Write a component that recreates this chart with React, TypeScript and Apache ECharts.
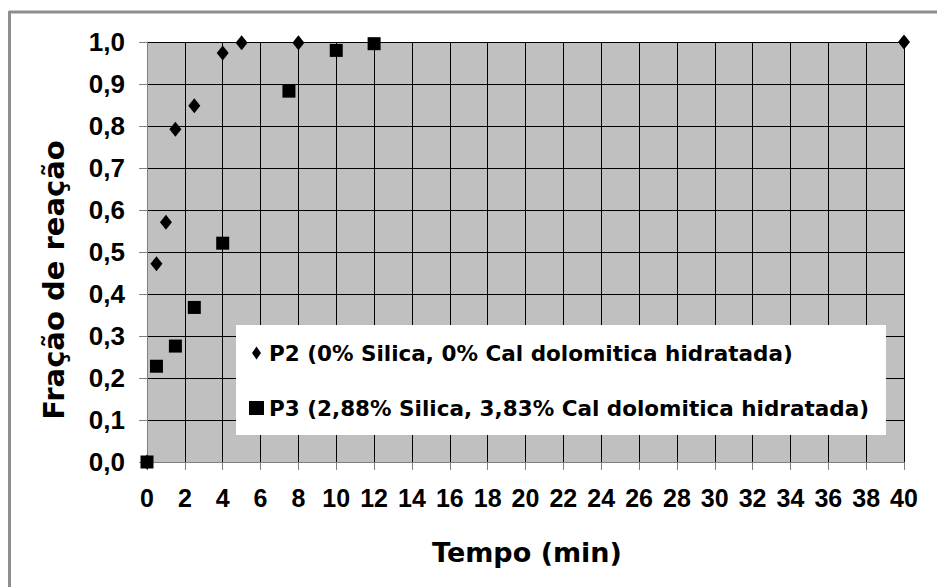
import React, { useEffect, useRef } from "react";
import * as echarts from "echarts";

const p2Label = "P2 (0% Silica, 0% Cal dolomitica hidratada)";
const p3Label = "P3 (2,88% Silica, 3,83% Cal dolomitica hidratada)";

const p2Time = [0, 0.5, 1, 1.5, 2.5, 4, 5, 8, 40];
const p2Fraction = [0, 0.472, 0.571, 0.792, 0.848, 0.974, 0.998, 0.998, 1.0];

const p3Time = [0, 0.5, 1.5, 2.5, 4, 7.5, 10, 12];
const p3Fraction = [0, 0.228, 0.276, 0.368, 0.521, 0.883, 0.98, 0.996];

const xTitle = "Tempo (min)";
const yTitle = "Fração de reação";

const FONT = "Arial, 'Liberation Sans', sans-serif";
const WIDE = "'DejaVu Sans', sans-serif";

export default function App() {
  const ref = useRef<HTMLDivElement>(null);

  useEffect(() => {
    if (!ref.current) return;
    const chart = echarts.init(ref.current, undefined, { renderer: "svg" });
    const p2 = p2Time.map((t, i) => [t, p2Fraction[i]]);
    const p3 = p3Time.map((t, i) => [t, p3Fraction[i]]);
    chart.setOption({
      animation: false,
      backgroundColor: "#ffffff",
      textStyle: { fontFamily: FONT },
      grid: {
        left: 147,
        top: 42,
        right: 33,
        bottom: 125,
        show: true,
        backgroundColor: "#C0C0C0",
        borderWidth: 0,
      },
      xAxis: {
        type: "value",
        min: 0,
        max: 40,
        interval: 2,
        axisLine: { show: true, onZero: false, lineStyle: { color: "#808080", width: 1 } },
        axisTick: { show: true, inside: false, length: 8, lineStyle: { color: "#808080" } },
        splitLine: { show: true, lineStyle: { color: "#000000", width: 1 } },
        axisLabel: {
          margin: 23,
          fontSize: 25,
          fontWeight: "bold",
          color: "#000000",
          fontFamily: FONT,
        },
      },
      yAxis: {
        type: "value",
        min: 0,
        max: 1,
        interval: 0.1,
        axisLine: { show: true, onZero: false, lineStyle: { color: "#808080", width: 1 } },
        axisTick: { show: true, inside: false, length: 8, lineStyle: { color: "#808080" } },
        splitLine: { show: true, lineStyle: { color: "#000000", width: 1 } },
        axisLabel: {
          margin: 22,
          fontSize: 26,
          fontWeight: "bold",
          color: "#000000",
          fontFamily: FONT,
          formatter: (v: number) => v.toFixed(1).replace(".", ","),
        },
      },
      legend: {
        orient: "vertical",
        left: 236,
        top: 325,
        backgroundColor: "#ffffff",
        padding: [17, 17, 16, 13],
        itemGap: 33,
        itemWidth: 15,
        itemHeight: 14,
        textStyle: { fontSize: 21.5, fontWeight: "bold", color: "#000000", fontFamily: WIDE },
        data: [
          {
            name: p2Label,
            icon: "path://M0,0 M15,14 M7.5,0.5 L12,7 L7.5,13.5 L3,7 Z",
            itemStyle: { color: "#000", opacity: 1 },
          },
          { name: p3Label, icon: "rect", itemStyle: { color: "#000", opacity: 1 } },
        ],
      },
      series: [
        {
          name: p3Label,
          type: "scatter",
          symbol: "rect",
          symbolSize: 13,
          itemStyle: { color: "#000000", opacity: 1 },
          data: p3,
          z: 3,
        },
        {
          name: p2Label,
          type: "scatter",
          symbol: "diamond",
          symbolSize: [12, 15],
          itemStyle: { color: "#000000", opacity: 1 },
          data: p2,
          z: 2,
        },
      ],
      graphic: [
        {
          type: "line",
          shape: { x1: 9, y1: 12, x2: 937, y2: 12 },
          style: { stroke: "#8e8e8e", lineWidth: 3 },
        },
        {
          type: "line",
          shape: { x1: 9.5, y1: 11, x2: 9.5, y2: 587 },
          style: { stroke: "#8e8e8e", lineWidth: 3 },
        },
        {
          type: "text",
          x: 527,
          y: 552,
          style: {
            text: xTitle,
            fontSize: 27,
            fontWeight: "bold",
            fontFamily: WIDE,
            fill: "#000000",
            align: "center",
            verticalAlign: "middle",
          },
        },
        {
          type: "text",
          x: 54,
          y: 280,
          rotation: Math.PI / 2,
          style: {
            text: yTitle,
            fontSize: 29,
            fontWeight: "bold",
            fontFamily: WIDE,
            fill: "#000000",
            align: "center",
            verticalAlign: "middle",
          },
        },
      ],
    });
    return () => chart.dispose();
  }, []);

  return (
    <div
      ref={ref}
      style={{ position: "fixed", left: 0, top: 0, width: 937, height: 587 }}
    />
  );
}
